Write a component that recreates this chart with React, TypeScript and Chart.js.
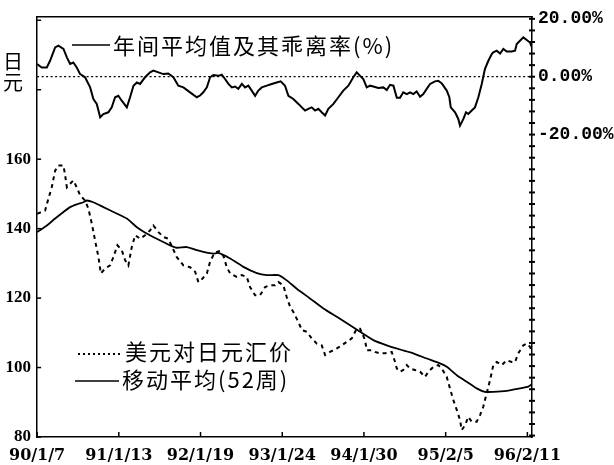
import React, { useEffect, useRef } from "react";
import { Chart, registerables } from "chart.js";

Chart.register(...registerables);

// x axis: weeks since 90/1/7
const xTickWeeks = [0, 53, 106, 159, 212, 265, 318];
const xTickLabels = ["90/1/7", "91/1/13", "92/1/19", "93/1/24", "94/1/30", "95/2/5", "96/2/11"];

// left axis (yen)
const yenTickValues = [80, 100, 120, 140, 160, 180, 200];
const yenTickLabels = ["80", "100", "120", "140", "160", "", ""];

// right axis (deviation %)
const devLabelValues = [20, 0, -20];
const devLabelTexts = ["20.00%", "0.00%", "-20.00%"];

// deviation rate (%)
const devWeeks = [0, 3, 6.3, 8.4, 11.7, 13.8, 17.1, 19.3, 21.4, 23.5, 25.7, 27.9, 31.1, 34.4, 36.5, 38.7, 40.9, 43, 46.2, 48.4, 50.6, 52.7, 54.9, 58.2, 60.3, 62.5, 64.7, 66.8, 70, 73.3, 75.4, 78.7, 81.9, 85.1, 88.4, 91.6, 94.9, 99.2, 103.6, 105.7, 107.8, 110.1, 112.2, 114.3, 117.6, 119.8, 121.9, 124.1, 126.3, 128.4, 130.5, 132.8, 134.9, 137, 139.2, 141.4, 143.5, 145.7, 149, 152.2, 155.4, 158, 160.8, 163, 166.2, 169.5, 171.7, 173.8, 175.9, 178.1, 180.3, 182.4, 184.6, 186.8, 188.9, 192.2, 195.4, 198.6, 201.9, 205.1, 207.3, 209.5, 211.6, 213.8, 216, 218.1, 221.3, 224.6, 226.8, 228.9, 231.1, 233.3, 235.4, 237.5, 239.8, 241.9, 244, 246.2, 248.4, 250.5, 252.7, 254.9, 258.1, 260.2, 262.5, 265.7, 267.4, 268.3, 271.1, 273.2, 274.3, 276.5, 278.2, 279.7, 281.9, 284, 286.2, 288.4, 290.5, 292.7, 294.9, 295.9, 298.1, 300.3, 302.4, 304.6, 307.8, 310, 311.1, 313.2, 315.4, 317.6, 319.7, 321];
const devValues = [4.4, 3.2, 3.2, 5.5, 10.1, 10.7, 9.6, 6.7, 4.4, 4.9, 3.2, 0.9, -0.2, -3.7, -7.7, -9.4, -14.0, -12.9, -12.3, -10.6, -7.1, -6.6, -8.3, -10.6, -7.1, -3.1, -2.0, -2.5, -0.2, 1.5, 2.1, 1.5, 0.9, 1.1, -0.2, -3.1, -3.7, -5.4, -7.1, -6.5, -5.4, -3.7, -0.2, 0.6, 0.3, 0.7, -0.8, -2.5, -3.7, -3.4, -4.2, -2.5, -3.7, -3.1, -4.8, -6.6, -4.8, -3.7, -3.1, -2.5, -2.0, -1.6, -3.1, -6.6, -7.7, -9.4, -10.6, -11.7, -11.1, -10.6, -11.7, -11.1, -12.3, -13.4, -11.1, -9.4, -7.1, -4.8, -3.1, -0.2, 1.5, 0.3, -0.8, -3.7, -3.1, -3.4, -3.9, -3.7, -4.6, -2.8, -3.1, -7.3, -7.3, -5.4, -6.0, -5.4, -6.0, -5.1, -6.9, -6.0, -4.2, -2.5, -1.6, -1.4, -2.3, -4.8, -7.1, -10.6, -12.3, -14.6, -16.9, -14.6, -12.3, -12.9, -11.7, -10.6, -7.1, -2.5, 2.7, 5.5, 7.8, 8.4, 9.0, 8.0, 9.6, 8.7, 8.7, 9.0, 11.3, 12.4, 13.6, 12.7, 11.8, 10.1];

// USD/JPY weekly rate
const priceWeeks = [0, 3, 5.2, 7.3, 9.5, 11.7, 13.8, 17.1, 18.2, 19.3, 21.4, 23.5, 25.7, 27.9, 31.1, 33.3, 35.5, 37.6, 39.8, 41.3, 44.1, 47.3, 49.5, 52.1, 54.9, 57.1, 59.2, 61.4, 63.6, 66.8, 70, 73.3, 75.4, 78.7, 81.9, 85.1, 90.6, 94.9, 99.2, 102.5, 104.6, 107, 110.1, 112.2, 115, 118, 121, 123, 125.2, 129.5, 132.8, 136, 138.1, 141.4, 144.6, 147.9, 151.1, 154.3, 156.5, 159.7, 161.9, 164.1, 166.2, 169.5, 171.7, 174.9, 178.1, 181.4, 184.6, 186.8, 190, 194.4, 197.6, 200.8, 204.1, 207.3, 209.5, 212.7, 213.8, 217.1, 219.2, 222.4, 225.7, 230, 232.2, 233.3, 235.4, 237.5, 239.8, 241.9, 245.1, 248.4, 251.6, 253.8, 257, 260.2, 262.5, 265.7, 267.8, 270, 272.2, 274.3, 275.4, 277.6, 279.7, 281.9, 285.1, 287.3, 289.4, 291.6, 293.8, 295.9, 298.1, 301.4, 304.6, 307.8, 310, 312.1, 315.4, 317.6, 319.7, 321];
const priceValues = [144.3, 144.8, 145.2, 148.6, 151.9, 156.7, 158.2, 158.2, 155.3, 151.9, 152.9, 153.9, 151.9, 149.6, 148.1, 145.7, 141.4, 136.6, 131.8, 127.1, 128.5, 129.4, 131.8, 135.2, 133.8, 130.9, 129.4, 134.7, 138.1, 137.1, 138.1, 139.5, 140.9, 139.0, 137.6, 137.1, 131.8, 129.4, 128.9, 127.6, 124.6, 125.5, 127.1, 130.5, 133.0, 133.5, 132.0, 128.9, 127.1, 126.1, 126.6, 126.1, 123.2, 120.8, 120.8, 123.2, 123.7, 123.7, 124.6, 123.7, 120.3, 117.5, 116.0, 113.1, 110.8, 110.3, 108.4, 106.9, 106.4, 103.6, 104.5, 105.5, 106.4, 107.4, 108.4, 111.2, 111.2, 107.9, 105.0, 105.0, 104.5, 104.1, 104.1, 104.5, 101.6, 99.7, 98.8, 99.3, 100.7, 99.7, 99.3, 98.8, 97.3, 98.8, 100.2, 100.7, 99.7, 97.3, 94.0, 90.6, 87.8, 84.9, 82.0, 83.4, 85.8, 84.4, 84.4, 86.3, 88.7, 92.6, 96.4, 100.7, 101.6, 100.7, 102.1, 101.6, 101.6, 104.1, 106.4, 106.9, 106.0, 104.4];

// 52-week moving average
const maWeeks = [0, 6.3, 11.7, 17.1, 21.4, 25.7, 30, 32.2, 36.5, 43, 49.5, 58.2, 64.7, 71.1, 77.6, 86.3, 90.6, 97.1, 103.6, 107.8, 114.3, 117.6, 125.2, 133.8, 142.5, 149, 156.5, 161.9, 168.4, 177, 185.7, 194.4, 203, 209.5, 218.1, 226.8, 235.4, 244, 252.7, 261.3, 265.7, 272.2, 278.7, 285.1, 290.5, 295.9, 304.6, 313.2, 318.6, 321];
const maValues = [139.0, 140.9, 142.9, 144.8, 146.2, 147.0, 147.6, 148.1, 147.6, 146.2, 144.8, 142.9, 140.4, 138.6, 137.1, 135.2, 134.5, 134.7, 133.8, 133.3, 132.8, 133.0, 131.4, 129.0, 127.2, 126.6, 126.6, 125.1, 122.7, 119.9, 117.0, 114.6, 112.2, 110.3, 107.9, 106.4, 105.2, 104.1, 102.6, 101.2, 100.2, 97.8, 95.9, 94.0, 93.0, 93.0, 93.3, 94.0, 94.5, 95.2];

const zeroLineWeeks = [0, 321];
const zeroLineValues = [0, 0];

const legendTop = "年间平均值及其乖离率(%)";
const legendPrice = "美元对日元汇价";
const legendMA = "移动平均(52周)";
const yenUnit = ["日", "元"];

const toXY = (xs: number[], ys: number[]) => xs.map((x, i) => ({ x, y: ys[i] }));

const CJK = "'Noto Sans CJK SC', sans-serif";

const overlayPlugin = {
  id: "overlay",
  afterDatasetsDraw(chart: any) {
    const { ctx, chartArea: a, scales } = chart;
    ctx.save();
    ctx.strokeStyle = "#000";
    ctx.fillStyle = "#000";
    ctx.lineWidth = 1.5;
    const seg = (x1: number, y1: number, x2: number, y2: number) => {
      ctx.beginPath();
      ctx.moveTo(x1, y1);
      ctx.lineTo(x2, y2);
      ctx.stroke();
    };
    // top frame
    seg(a.left - 0.75, a.top, a.right + 0.75, a.top);
    // left ticks (inside)
    scales.y.ticks.forEach((t: any) => {
      const py = scales.y.getPixelForValue(t.value);
      seg(a.left, py, a.left + 4, py);
    });
    // right ticks (straddling)
    ctx.lineWidth = 2;
    scales.yR.ticks.forEach((t: any) => {
      const py = scales.yR.getPixelForValue(t.value);
      seg(a.right - 3, py, a.right + 3, py);
    });
    ctx.lineWidth = 1.5;
    // bottom ticks (inside)
    scales.x.ticks.forEach((t: any) => {
      const px = scales.x.getPixelForValue(t.value);
      seg(px, a.bottom, px, a.bottom - 5);
    });

    // legends
    ctx.textBaseline = "middle";
    ctx.textAlign = "left";
    ctx.font = `22px ${CJK}`;
    try { (ctx as any).letterSpacing = "2px"; } catch (e) {}
    ctx.lineWidth = 1.5;
    seg(72, 45, 110, 45);
    ctx.fillText(legendTop, 113, 46);

    ctx.setLineDash([2, 3]);
    ctx.lineWidth = 2;
    seg(78, 354, 122, 354);
    ctx.setLineDash([]);
    ctx.fillText(legendPrice, 125, 352);

    ctx.lineWidth = 1.5;
    seg(75, 381, 119, 381);
    ctx.fillText(legendMA, 122, 380);

    // unit label
    try { (ctx as any).letterSpacing = "0px"; } catch (e) {}
    ctx.textAlign = "center";
    ctx.font = `20px ${CJK}`;
    ctx.fillText(yenUnit[0], 13, 61);
    ctx.fillText(yenUnit[1], 13, 82);
    ctx.restore();
  },
};

export default function App() {
  const ref = useRef<HTMLCanvasElement | null>(null);
  useEffect(() => {
    document.body.style.margin = "0";
    const canvas = ref.current;
    if (!canvas) return;
    const chart = new Chart(canvas, {
      type: "line",
      data: {
        datasets: [
          {
            label: "zero",
            data: toXY(zeroLineWeeks, zeroLineValues),
            yAxisID: "yR",
            borderColor: "#000",
            borderWidth: 1.2,
            borderDash: [2, 2.5],
            pointRadius: 0,
          },
          {
            label: legendTop,
            data: toXY(devWeeks, devValues),
            yAxisID: "yR",
            borderColor: "#000",
            borderWidth: 2,
            pointRadius: 0,
            tension: 0,
          },
          {
            label: legendPrice,
            data: toXY(priceWeeks, priceValues),
            yAxisID: "y",
            borderColor: "#000",
            borderWidth: 2,
            borderDash: [4, 4],
            pointRadius: 0,
            tension: 0,
          },
          {
            label: legendMA,
            data: toXY(maWeeks, maValues),
            yAxisID: "y",
            borderColor: "#000",
            borderWidth: 1.8,
            pointRadius: 0,
            tension: 0.2,
          },
        ],
      },
      options: {
        animation: false,
        responsive: false,
        devicePixelRatio: 1,
        layout: { padding: { top: 16, left: 0, right: 0, bottom: 0 } },
        plugins: { legend: { display: false }, tooltip: { enabled: false } },
        scales: {
          x: {
            type: "linear",
            min: 0,
            max: 321,
            afterBuildTicks: (s: any) => {
              s.ticks = xTickWeeks.map((v) => ({ value: v }));
            },
            afterFit: (s: any) => {
              s.height = 28;
            },
            grid: { display: false, drawTicks: false },
            border: { display: true, color: "#000", width: 1.5 },
            ticks: {
              autoSkip: false,
              maxRotation: 0,
              padding: 9,
              color: "#000",
              font: { family: "'DejaVu Serif', serif", size: 16, weight: "bold" },
              callback: (v: any) => {
                const i = xTickWeeks.indexOf(Number(v));
                return i >= 0 ? xTickLabels[i] : "";
              },
            },
          },
          y: {
            position: "left",
            min: 80,
            max: 201,
            afterBuildTicks: (s: any) => {
              s.ticks = yenTickValues.map((v) => ({ value: v }));
            },
            afterFit: (s: any) => {
              s.width = 37;
            },
            grid: { display: false, drawTicks: false },
            border: { display: true, color: "#000", width: 1.5 },
            ticks: {
              autoSkip: false,
              padding: 6,
              color: "#000",
              font: { family: "'Liberation Serif', serif", size: 17, weight: "bold" },
              callback: (v: any) => {
                const i = yenTickValues.indexOf(Number(v));
                return i >= 0 ? yenTickLabels[i] : "";
              },
            },
          },
          yR: {
            position: "right",
            min: -124.5,
            max: 20.7,
            afterBuildTicks: (s: any) => {
              const arr: any[] = [];
              for (let v = 20; v >= -124; v -= 4) arr.push({ value: v });
              s.ticks = arr;
            },
            afterFit: (s: any) => {
              s.width = 82;
            },
            grid: { display: false, drawTicks: false },
            border: { display: true, color: "#000", width: 1.5 },
            ticks: {
              autoSkip: false,
              padding: 6,
              color: "#000",
              font: { family: "'Liberation Mono', monospace", size: 18, weight: "bold" },
              callback: (v: any) => {
                const i = devLabelValues.indexOf(Number(v));
                return i >= 0 ? devLabelTexts[i] : "";
              },
            },
          },
        },
      },
      plugins: [overlayPlugin],
    } as any);
    return () => chart.destroy();
  }, []);
  return (
    <div style={{ width: 614, height: 465, background: "#fff" }}>
      <canvas ref={ref} width={614} height={465} style={{ display: "block" }} />
    </div>
  );
}
